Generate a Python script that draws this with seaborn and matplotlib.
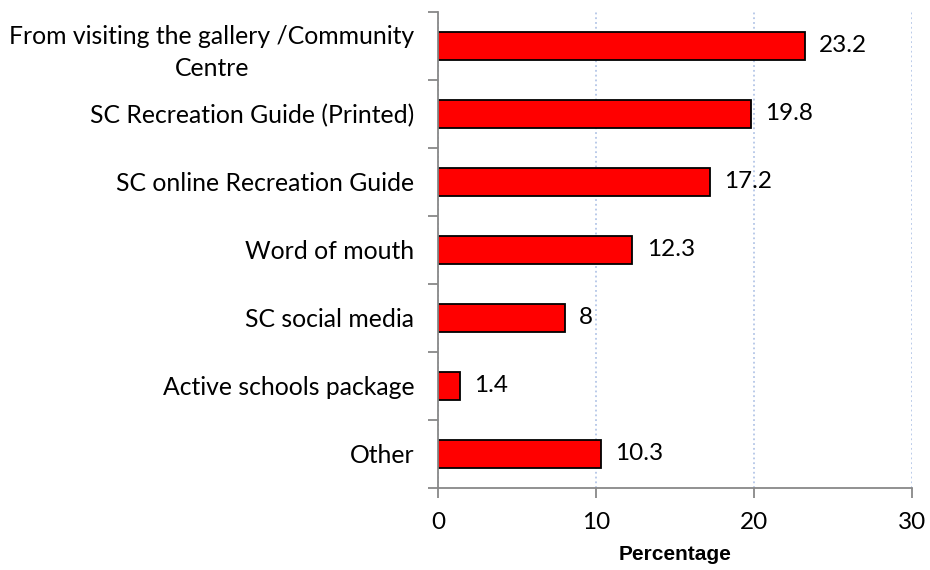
import numpy as np
import matplotlib
matplotlib.use("Agg")
import matplotlib.pyplot as plt
import seaborn as sns
import pandas as pd

sources = ["From visiting the gallery /Community\nCentre",
           "SC Recreation Guide (Printed)",
           "SC online Recreation Guide",
           "Word of mouth",
           "SC social media",
           "Active schools package",
           "Other"]
pct = [23.2, 19.8, 17.2, 12.3, 8, 1.4, 10.3]
pct_labels = ["23.2", "19.8", "17.2", "12.3", "8", "1.4", "10.3"]

sns.set_style("white")
plt.rcParams['font.family'] = ['Lato', 'DejaVu Sans']
plt.rcParams['text.color'] = 'black'
plt.rcParams['axes.labelcolor'] = 'black'
plt.rcParams['xtick.color'] = 'black'
plt.rcParams['ytick.color'] = 'black'

df = pd.DataFrame({"source": sources, "pct": pct})

fig = plt.figure(figsize=(9.3, 5.7), dpi=100)
ax = fig.add_axes([0.471, 0.144, 0.510, 0.835])

sns.barplot(data=df, x="pct", y="source", color="#ff0000", width=0.42,
            edgecolor="black", linewidth=1.3, saturation=1, ax=ax)

for i, (v, s) in enumerate(zip(pct, pct_labels)):
    ax.text(v + 0.9, i, s, va="center", ha="left", fontsize=17.5)

ax.set_xlim(0, 30)
ax.set_ylim(6.5, -0.5)
ax.set_xticks([0, 10, 20, 30])
ax.tick_params(axis="x", bottom=True, labelsize=17.5, length=7, width=1.3,
               color="#888888", labelcolor="black", direction="out", pad=10)
ax.set_yticks(range(len(sources)))
ax.set_yticklabels(sources, fontsize=17.8, multialignment="center", linespacing=1.45)
ax.tick_params(axis="y", which="major", left=False, length=0, pad=17, labelcolor="black")
ax.set_yticks(np.arange(-0.5, 7, 1), minor=True)
ax.tick_params(axis="y", which="minor", left=True, length=7, width=1.3,
               color="#888888", direction="out")

ax.xaxis.grid(True, linestyle=":", color="#b4c6e7", linewidth=1.3)
ax.yaxis.grid(False)
ax.set_axisbelow(True)

sns.despine(ax=ax, top=True, right=True)
for sp in ["left", "bottom"]:
    ax.spines[sp].set_color("#888888")
    ax.spines[sp].set_linewidth(1.3)

ax.set_ylabel("")
ax.set_xlabel("Percentage", fontsize=15, fontweight="bold", color="black",
              family=["Liberation Sans"], labelpad=9)

plt.savefig("out.png", dpi=100)
